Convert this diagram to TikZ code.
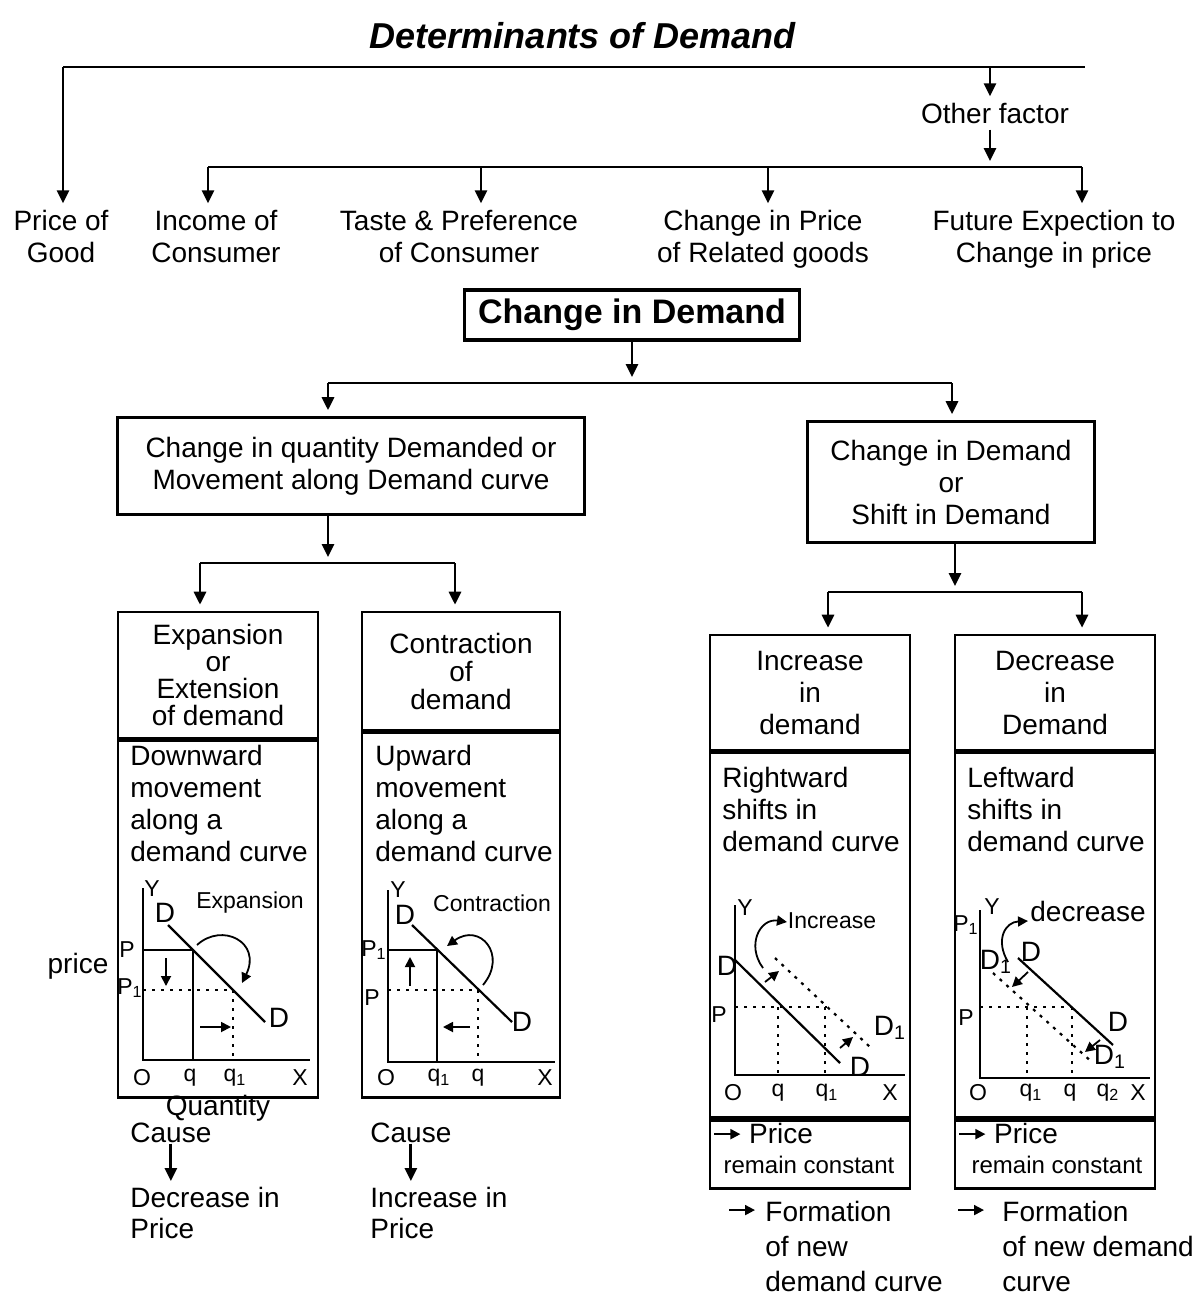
\documentclass[tikz,border=0pt]{standalone}
\usepackage{fontspec}
\setmainfont{Liberation Sans}
\usetikzlibrary{arrows.meta,positioning}

\newcommand{\harr}{\tikz[baseline=-0.6ex]\draw[line width=1pt,-{Triangle[length=5pt,width=5pt]}] (0pt,0pt) -- (13pt,0pt);}

\tikzset{
  ttl/.style={font=\bfseries\itshape\fontsize{18}{20}\selectfont, inner sep=0pt},
  txt/.style={font=\fontsize{14}{16}\selectfont, align=center, inner sep=0pt},
  ltxt/.style={font=\fontsize{14}{16}\selectfont, align=left, inner sep=0pt, anchor=north west},
  small/.style={font=\fontsize{12}{14}\selectfont, inner sep=0pt},
  ln/.style={line width=1.4pt},
  arr/.style={line width=1.4pt, -{Triangle[length=6.5pt,width=6pt]}, shorten >=3pt},
  qbox/.style={draw, line width=1.3pt, font=\fontsize{14}{16}\selectfont, align=center, inner sep=0pt},
  cell/.style={draw, line width=1.3pt, align=center, inner sep=0pt, minimum width=100pt},
  ax/.style={line width=1.1pt},
  dotl/.style={line width=1.1pt, dash pattern=on 1.5pt off 3pt},
  sarr/.style={line width=0.9pt, -{Triangle[length=5pt,width=5pt]}},
  gl/.style={font=\fontsize{11.5}{12}\selectfont, inner sep=0pt},
  gD/.style={font=\fontsize{14}{14}\selectfont, inner sep=0pt},
  note/.style={font=\fontsize{11.5}{12}\selectfont, inner sep=0pt},
}

\begin{document}
\begin{tikzpicture}[x=0.5pt,y=-0.5pt]
\useasboundingbox (0,0) rectangle (1204,1298);

% top level
\node[ttl] (title) at (583,36) {Determinants of Demand};
\coordinate (busL) at (63,67);
\coordinate (busR) at (1085,67);
\coordinate (busO) at (990,67);
\draw[ln] (busL) -- (busR);
\node[txt] (good) at (61,236) {Price of\\Good};
\draw[arr] (busL) -- (busL |- good.north);
\node[txt] (other) at (995,113) {Other factor};
\draw[arr] (busO) -- (busO |- other.north);
\coordinate (bus2) at (990,167);
\draw[arr] ([yshift=-3pt]busO |- other.south) -- (bus2);

\node[txt] (income) at (216,236) {Income of\\Consumer};
\node[txt] (taste) at (459,236) {Taste \& Preference\\of Consumer};
\node[txt] (related) at (763,239) {Change in Price\\of Related goods};
\node[txt] (future) at (1054,239) {Future Expection to\\Change in price};
\foreach \n/\x in {income/208, taste/481, related/768, future/1082}
  \coordinate (t-\n) at (\x,167);
\draw[ln] (t-income) -- (t-future);
\foreach \n in {income,taste,related,future}
  \draw[arr] (t-\n) -- (t-\n |- taste.north);

% change in demand
\node[draw, line width=1.8pt, font=\bfseries\fontsize{17}{20}\selectfont, minimum width=167.5pt, minimum height=25pt, inner sep=0pt] (cid) at (632,315) {Change in Demand};
\coordinate (b3) at (630,383);
\coordinate (b3L) at (328,383);
\coordinate (b3R) at (952,383);
\draw[arr] (cid.south) -- (cid.south |- b3);
\draw[ln] (b3L) -- (b3R);
\node[qbox, minimum width=233.5pt, minimum height=48.5pt] (qty) at (351,466) {Change in quantity Demanded or\\Movement along Demand curve};
\node[qbox, minimum width=143.5pt, minimum height=60.5pt] (shift) at (951,482) {Change in Demand\\or\\Shift in Demand};
\draw[arr] (b3L) -- (b3L |- qty.north);
\draw[arr] (b3R) -- (b3R |- shift.north);

\coordinate (b4) at (328,563);
\coordinate (b4L) at (200,563);
\coordinate (b4R) at (455,563);
\draw[arr] (qty.south -| b4) -- (b4);
\draw[ln] (b4L) -- (b4R);
\coordinate (b5) at (955,592);
\coordinate (b5L) at (828,592);
\coordinate (b5R) at (1082,592);
\draw[arr] (shift.south -| b5) -- (b5);
\draw[ln] (b5L) -- (b5R);

% four boxes
\node[cell, minimum height=63pt, font=\fontsize{14}{13.5}\selectfont] (expA) at (218,675) {Expansion\\or\\Extension\\of demand};
\node[cell, anchor=north, minimum height=178.5pt] (bodyA) at (expA.south) {};
\node[cell, minimum width=99pt, minimum height=59pt, font=\fontsize{14}{14}\selectfont] (conB) at (461,671) {Contraction\\of\\demand};
\node[cell, anchor=north, minimum width=99pt, minimum height=182.5pt] (bodyB) at (conB.south) {};
\node[cell, minimum height=57.5pt, font=\fontsize{14}{16}\selectfont] (incC) at (810,692.5) {Increase\\in\\demand};
\node[cell, anchor=north, minimum height=182.5pt] (bodyC) at (incC.south) {};
\node[cell, anchor=north, minimum height=34pt] (footC) at (bodyC.south) {};
\node[cell, minimum height=57.5pt, font=\fontsize{14}{16}\selectfont] (decD) at (1055,692.5) {Decrease\\in\\Demand};
\node[cell, anchor=north, minimum height=182.5pt] (bodyD) at (decD.south) {};
\node[cell, anchor=north, minimum height=34pt] (footD) at (bodyD.south) {};
\draw[arr] (b4L) -- (b4L |- expA.north);
\draw[arr] (b4R) -- (b4R |- conB.north);
\draw[arr] (b5L) -- (b5L |- incC.north);
\draw[arr] (b5R) -- (b5R |- decD.north);

\node[ltxt] (dwA) at (130,745) {Downward\\movement\\along a\\demand curve};
\node[ltxt] (upB) at (375,745) {Upward\\movement\\along a\\demand curve};
\node[ltxt] (rtC) at (722,767) {Rightward\\shifts in\\demand curve};
\node[ltxt] (lfD) at (967,767) {Leftward\\shifts in\\demand curve};

% graph A
\draw[ax] (143,888) -- (143,1060) -- (310,1060);
\draw[ax] (143,950) -- (193,950) -- (193,1060);
\draw[dotl] (143,990) -- (233,990) -- (233,1060);
\draw[ax] (168,925) -- (265,1022);
\draw[sarr] (166,958) -- (166,986);
\draw[sarr] (200,1027) -- (231,1027);
\draw[sarr] (197,945) .. controls (222,922) and (262,942) .. (242,983);
\foreach \n/\t/\x/\y in {Y/Y/152/889, O/O/142/1078, q/q/190/1078, q1/q\textsubscript{1}/235/1078, X/X/300/1078, P/P/127/950, P1/P\textsubscript{1}/130/988}
  \node[gl] (gA\n) at (\x,\y) {\t};
\node[gD] (gAD) at (165,913) {D};
\node[gD] (gAD1) at (279,1018) {D};
\node[note] (gAexp) at (250,903) {Expansion};
\node[txt] (priceL) at (78,966) {price};

% graph B
\draw[ax] (388,890) -- (388,1062) -- (555,1062);
\draw[ax] (388,950) -- (437,950) -- (437,1062);
\draw[dotl] (388,990) -- (478,990) -- (478,1062);
\draw[ax] (412,925) -- (512,1022);
\draw[sarr] (410,986) -- (410,957);
\draw[sarr] (470,1027) -- (443,1027);
\draw[sarr] (483,985) .. controls (508,955) and (480,922) .. (447,946);
\foreach \n/\t/\x/\y in {Y/Y/398/890, O/O/386/1078, q1/q\textsubscript{1}/439/1078, q/q/478/1078, X/X/545/1078, P1/P\textsubscript{1}/374/950, P/P/372/998}
  \node[gl] (gB\n) at (\x,\y) {\t};
\node[gD] (gBD) at (405,915) {D};
\node[gD] (gBD1) at (522,1022) {D};
\node[note] (gBcon) at (492,903) {Contraction};

% graph C
\draw[ax] (735,905) -- (735,1075) -- (905,1075);
\draw[ax] (735,960) -- (840,1063);
\draw[dotl] (775,958) -- (870,1047);
\draw[dotl] (735,1007) -- (827,1007);
\draw[dotl] (778,1007) -- (778,1075);
\draw[dotl] (825,1007) -- (825,1075);
\draw[sarr] (765,982) -- (779,971);
\draw[sarr] (840,1048) -- (853,1037);
\draw[sarr] (763,968) .. controls (746,945) and (760,918) .. (787,922);
\foreach \n/\t/\x/\y in {Y/Y/745/908, O/O/733/1093, q/q/778/1093, q1/q\textsubscript{1}/827/1093, X/X/890/1093, P/P/719/1015}
  \node[gl] (gC\n) at (\x,\y) {\t};
\node[gD] (gCD) at (727,966) {D};
\node[gD] (gCDe) at (860,1067) {D};
\node[gD] (gCD1) at (890,1028) {D\textsubscript{1}};
\node[note] (gCinc) at (832,921) {Increase};

% graph D
\draw[ax] (980,910) -- (980,1078) -- (1150,1078);
\draw[ax] (1018,958) -- (1113,1045);
\draw[dotl] (993,973) -- (1093,1063);
\draw[dotl] (980,1007) -- (1072,1007);
\draw[dotl] (1027,1007) -- (1027,1078);
\draw[dotl] (1072,1007) -- (1072,1078);
\draw[sarr] (1028,972) -- (1012,987);
\draw[sarr] (1100,1040) -- (1085,1052);
\draw[sarr] (1008,962) .. controls (995,940) and (1005,922) .. (1028,921);
\foreach \n/\t/\x/\y in {Y/Y/992/907, O/O/978/1093, q1/q\textsubscript{1}/1031/1093, q/q/1070/1093, q2/q\textsubscript{2}/1108/1093, X/X/1138/1093, P1/P\textsubscript{1}/966/925, P/P/966/1018}
  \node[gl] (gD\n) at (\x,\y) {\t};
\node[gD] (gDD1) at (996,962) {D\textsubscript{1}};
\node[gD] (gDD) at (1031,952) {D};
\node[gD] (gDDe) at (1118,1022) {D};
\node[gD] (gDD1e) at (1110,1057) {D\textsubscript{1}};
\node[gD] (gDdec) at (1088,911) {decrease};

% footers
\node[txt, anchor=west] (prC) at (713,1133) {\harr\ Price};
\node[small] (rcC) at (809,1165) {remain constant};
\node[txt, anchor=west] (prD) at (958,1133) {\harr\ Price};
\node[small] (rcD) at (1057,1165) {remain constant};

% below the boxes
\node[txt] (qtyA) at (218,1108) {Quantity};
\node[ltxt] (causeA) at (130,1123) {Cause};
\node[ltxt, font=\fontsize{14}{15.5}\selectfont] (decA) at (130,1187) {Decrease in\\Price};
\draw[arr] (causeA.south) -- (causeA.south |- decA.north);
\node[ltxt] (causeB) at (370,1123) {Cause};
\node[ltxt, font=\fontsize{14}{15.5}\selectfont] (incB) at (370,1187) {Increase in\\Price};
\draw[arr] (causeB.south) -- (causeB.south |- incB.north);

\node[txt] (faC) at (742,1212) {\harr};
\node[ltxt, font=\fontsize{14}{17.5}\selectfont] (fmC) at (765,1201) {Formation\\of new\\demand curve};
\node[txt] (faD) at (971,1212) {\harr};
\node[ltxt, font=\fontsize{14}{17.5}\selectfont] (fmD) at (1002,1201) {Formation\\of new demand\\curve};
\end{tikzpicture}
\end{document}
